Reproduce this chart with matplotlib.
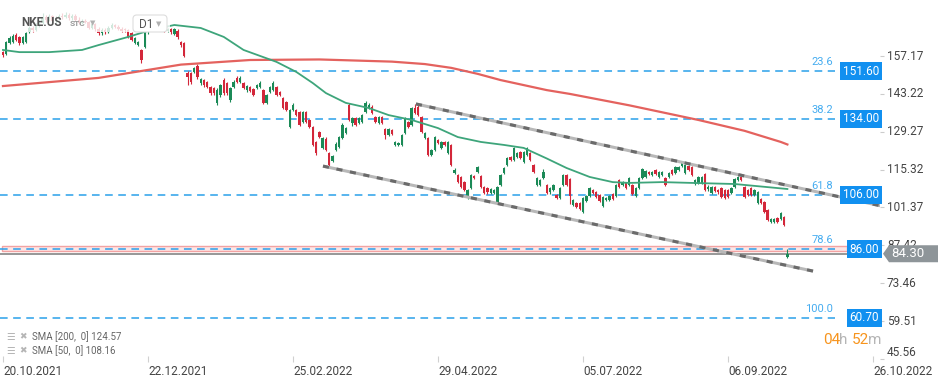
import numpy as np
import matplotlib
matplotlib.use("Agg")
import matplotlib.pyplot as plt
from matplotlib.patches import Rectangle, Polygon, FancyBboxPatch
from matplotlib.transforms import blended_transform_factory, ScaledTranslation

W, H = 949, 384

# x axis: one slot per trading day, labels every 44 bars
date_ticks = [0, 44, 88, 132, 176, 220, 264]
date_labels = ["20.10.2021", "22.12.2021", "25.02.2022", "29.04.2022",
               "05.07.2022", "06.09.2022", "26.10.2022"]
price_ticks = [157.17, 143.22, 129.27, 115.32, 101.37, 87.42, 73.46, 59.51, 45.56]

# fibo levels and zone
levels = [151.60, 134.00, 106.00, 86.00, 60.70]
fib_labels = ["23.6", "38.2", "61.8", "78.6", "100.0"]
zone_low, zone_high = 85.2, 87.2
last_price = 84.30

# daily candles NKE.US
opens = [
    158.6, 157.8, 162.0, 162.3, 164.9, 164.0, 162.0, 162.3, 166.0, 167.5,
    166.8, 168.6, 169.5, 171.5, 170.4, 171.8, 170.0, 171.2, 172.0, 171.4,
    172.4, 171.0, 172.0, 170.6, 169.5, 170.2, 169.8, 167.6, 168.8, 167.0,
    165.5, 166.8, 166.0, 167.5, 168.5, 168.0, 167.3, 167.0, 166.8, 165.6,
    162.0, 161.2, 159.4, 160.5, 166.0, 167.0, 168.0, 170.0, 168.0, 167.5,
    166.5, 167.0, 165.4, 166.5, 162.3, 161.8, 150.9, 150.9, 151.3, 153.5,
    147.2, 148.3, 147.6, 145.8, 145.4, 139.9, 142.8, 148.3, 147.2, 141.0,
    145.8, 149.1, 147.6, 147.2, 144.6, 145.8, 145.0, 145.4, 145.8, 144.6,
    139.9, 143.9, 144.6, 145.8, 143.9, 141.7, 140.2, 131.0, 137.3, 137.3,
    136.5, 132.8, 136.5, 133.6, 131.0, 125.5, 129.2, 123.3, 126.5, 121.4,
    118.5, 122.5, 123.6, 127.0, 128.8, 139.1, 132.5, 134.3, 132.5, 132.8,
    136.5, 138.0, 138.4, 134.7, 132.5, 134.7, 130.3, 128.1, 129.9, 124.4,
    124.4, 124.4, 128.8, 132.8, 131.7, 138.0, 138.4, 134.7, 127.0, 127.0,
    120.7, 122.5, 126.2, 123.3, 125.5, 121.4, 124.4, 114.1, 113.3, 112.6,
    110.7, 104.8, 108.5, 113.0, 114.4, 113.0, 108.9, 108.5, 106.7, 106.7,
    103.4, 109.6, 114.1, 117.0, 119.9, 118.8, 120.0, 121.8, 118.1, 120.7,
    121.4, 117.0, 109.6, 109.6, 112.2, 109.6, 107.0, 107.8, 105.9, 104.8,
    109.6, 113.3, 111.8, 102.3, 103.0, 103.0, 99.7, 103.7, 105.6, 107.8,
    107.0, 105.9, 101.9, 104.1, 104.1, 106.3, 105.6, 111.5, 109.6, 110.4,
    109.6, 109.6, 105.6, 108.5, 112.2, 112.6, 114.4, 113.3, 115.2, 112.6,
    113.3, 112.2, 112.6, 115.2, 114.1, 115.2, 116.6, 114.1, 116.6, 116.3,
    110.0, 110.4, 110.4, 113.7, 108.0, 106.7, 108.9, 107.8, 108.5, 107.8,
    107.8, 106.7, 108.9, 111.5, 112.6, 108.9, 107.8, 108.5, 105.9, 103.0,
    104.5, 103.4, 100.4, 96.0, 96.0, 97.5, 97.1, 97.8, 83.0,
]
highs = [
    159.0, 162.6, 164.4, 165.2, 165.5, 164.6, 164.5, 166.2, 168.2, 168.4,
    169.2, 170.3, 173.0, 172.2, 172.5, 172.4, 171.8, 172.8, 172.9, 173.4,
    173.0, 172.7, 172.6, 171.4, 170.9, 170.8, 170.1, 169.5, 169.4, 167.8,
    167.4, 167.6, 168.1, 169.2, 169.0, 168.6, 167.9, 167.5, 167.2, 166.0,
    164.3, 162.8, 159.9, 166.8, 167.8, 168.7, 170.8, 170.6, 168.6, 168.0,
    167.6, 167.5, 167.6, 167.0, 162.8, 162.2, 151.5, 151.3, 153.2, 154.3,
    149.2, 148.8, 148.1, 146.3, 145.9, 145.2, 147.0, 148.9, 147.7, 145.9,
    148.3, 149.8, 149.7, 147.7, 146.6, 146.3, 145.5, 147.0, 148.0, 145.1,
    143.3, 146.3, 147.8, 146.3, 144.4, 142.2, 140.7, 137.8, 139.9, 137.8,
    137.0, 137.0, 137.0, 134.1, 131.5, 126.0, 129.7, 127.5, 127.2, 121.9,
    120.8, 125.3, 127.8, 132.3, 131.1, 139.9, 134.8, 134.8, 134.8, 135.9,
    140.6, 139.7, 139.0, 135.2, 135.2, 135.2, 130.8, 130.8, 130.4, 126.0,
    125.6, 128.6, 134.8, 133.3, 138.5, 139.5, 139.5, 135.2, 129.3, 127.5,
    123.0, 127.8, 126.7, 126.0, 126.0, 126.0, 124.9, 115.9, 113.8, 113.1,
    111.2, 108.3, 113.8, 113.5, 116.8, 113.5, 109.4, 109.0, 108.7, 108.3,
    109.4, 113.8, 116.4, 120.1, 120.4, 123.8, 121.9, 122.3, 122.3, 123.8,
    121.9, 117.5, 112.7, 112.0, 115.5, 110.1, 109.0, 110.1, 106.4, 109.0,
    113.8, 113.8, 112.3, 104.6, 103.5, 103.5, 105.3, 106.1, 109.0, 108.3,
    107.5, 106.4, 105.7, 105.3, 106.1, 106.8, 110.1, 112.0, 111.2, 110.9,
    112.7, 110.1, 109.0, 112.7, 116.0, 115.3, 114.9, 114.9, 115.7, 114.9,
    114.9, 112.7, 114.6, 115.7, 116.8, 116.8, 118.2, 117.5, 117.1, 116.8,
    112.0, 113.1, 113.1, 114.2, 109.5, 109.4, 109.4, 108.3, 109.0, 108.3,
    108.3, 109.0, 112.3, 113.1, 113.1, 109.4, 108.3, 109.0, 108.3, 107.5,
    105.0, 103.9, 100.9, 97.6, 97.6, 98.0, 99.8, 98.3, 86.0,
]
lows = [
    156.8, 157.5, 161.6, 162.0, 162.6, 161.4, 161.7, 162.0, 165.5, 166.2,
    166.3, 168.0, 169.0, 169.8, 170.0, 169.4, 169.5, 170.6, 170.8, 171.0,
    170.5, 170.4, 170.0, 168.9, 168.8, 169.2, 167.0, 167.1, 166.4, 164.8,
    164.9, 165.2, 165.6, 167.0, 167.4, 166.8, 166.0, 166.0, 163.8, 162.6,
    161.6, 160.8, 154.6, 160.0, 165.4, 166.5, 167.6, 167.5, 166.9, 166.0,
    166.0, 165.4, 164.8, 163.6, 160.6, 156.8, 146.5, 147.0, 150.8, 148.8,
    146.6, 145.9, 145.3, 142.9, 142.8, 139.2, 142.2, 142.9, 142.9, 140.3,
    145.3, 147.1, 147.1, 144.9, 144.0, 143.8, 142.3, 144.9, 145.3, 139.3,
    139.4, 143.4, 144.1, 142.3, 142.3, 137.5, 136.8, 130.5, 136.8, 134.9,
    131.2, 132.3, 132.3, 130.5, 123.9, 120.8, 126.8, 122.8, 122.0, 116.4,
    118.0, 122.0, 123.1, 126.5, 128.3, 133.1, 131.5, 131.2, 132.0, 132.3,
    136.0, 137.5, 135.7, 132.3, 132.0, 132.0, 126.6, 127.6, 127.9, 123.9,
    123.9, 123.9, 128.3, 130.5, 131.2, 135.7, 134.9, 128.7, 126.5, 120.2,
    120.2, 122.0, 124.6, 122.8, 123.9, 120.9, 116.5, 113.6, 110.2, 108.4,
    107.3, 104.3, 108.0, 111.7, 113.9, 108.4, 106.2, 106.5, 106.2, 106.2,
    102.6, 109.1, 113.6, 116.5, 118.3, 118.3, 119.5, 119.1, 117.6, 120.2,
    118.3, 113.9, 109.1, 109.1, 111.7, 106.2, 106.5, 107.3, 104.3, 104.3,
    109.1, 109.1, 102.5, 101.8, 101.0, 100.3, 99.2, 103.2, 105.1, 106.2,
    104.7, 103.2, 101.4, 103.6, 103.6, 104.0, 105.1, 108.4, 109.1, 108.0,
    109.1, 105.8, 105.1, 108.0, 111.7, 112.1, 113.2, 112.8, 113.2, 112.1,
    112.8, 109.1, 112.1, 113.2, 113.6, 114.7, 116.1, 113.6, 114.7, 112.8,
    109.5, 109.9, 109.9, 107.3, 107.5, 106.2, 106.9, 106.5, 104.7, 104.3,
    104.7, 106.2, 108.4, 111.0, 111.0, 104.7, 105.4, 105.4, 105.4, 102.5,
    102.5, 99.2, 96.2, 95.5, 95.5, 95.5, 96.6, 94.4, 82.6,
]
closes = [
    157.5, 162.3, 163.8, 164.5, 163.0, 162.0, 164.0, 165.6, 167.5, 166.8,
    168.6, 169.5, 171.5, 170.4, 171.8, 170.0, 171.2, 172.0, 171.4, 172.4,
    171.0, 172.0, 170.6, 169.5, 170.2, 169.8, 167.6, 168.8, 167.0, 165.5,
    166.8, 166.0, 167.5, 168.5, 168.0, 167.3, 166.5, 166.6, 164.2, 163.1,
    163.8, 162.3, 155.7, 166.0, 167.0, 168.0, 170.0, 168.0, 167.5, 166.5,
    167.0, 166.0, 167.0, 164.2, 161.2, 157.2, 149.4, 147.6, 152.8, 149.4,
    148.7, 146.5, 145.8, 143.5, 143.5, 144.6, 146.5, 143.5, 143.5, 145.4,
    147.6, 147.6, 149.1, 145.4, 146.1, 144.3, 142.8, 146.5, 147.2, 139.9,
    142.8, 145.8, 147.2, 142.8, 142.8, 138.0, 137.3, 137.3, 139.1, 135.4,
    131.7, 136.5, 132.8, 131.0, 124.4, 121.4, 127.3, 127.0, 122.5, 117.0,
    120.3, 124.8, 127.3, 131.8, 130.6, 133.6, 134.3, 131.7, 134.3, 135.4,
    139.9, 139.1, 136.2, 132.8, 134.7, 132.5, 128.1, 130.3, 128.4, 125.5,
    125.1, 128.1, 134.3, 131.0, 138.0, 136.2, 135.4, 129.2, 128.8, 120.7,
    122.5, 127.3, 125.1, 125.5, 124.4, 125.5, 117.0, 115.2, 110.7, 108.9,
    107.8, 107.8, 113.3, 112.2, 116.3, 108.9, 106.7, 107.0, 108.2, 107.8,
    108.9, 113.3, 115.9, 119.6, 118.8, 123.3, 121.4, 119.6, 121.8, 123.3,
    118.8, 114.4, 112.2, 111.5, 114.4, 106.7, 108.5, 109.6, 104.8, 108.5,
    113.3, 109.6, 105.6, 104.1, 101.5, 100.8, 104.8, 105.6, 108.5, 106.7,
    105.2, 103.7, 105.2, 104.8, 105.6, 104.5, 109.6, 108.9, 110.7, 108.5,
    112.2, 106.3, 108.5, 112.2, 115.5, 114.8, 113.7, 114.4, 113.7, 114.4,
    114.4, 109.6, 114.1, 113.7, 116.3, 116.3, 117.7, 117.0, 115.2, 113.3,
    111.5, 112.6, 112.6, 107.8, 109.0, 108.9, 107.4, 107.0, 105.2, 104.8,
    105.2, 108.5, 111.8, 112.6, 111.5, 105.2, 105.9, 105.9, 107.8, 107.0,
    103.0, 99.7, 96.7, 97.1, 97.1, 96.0, 99.3, 94.9, 84.3,
]

# moving averages (sampled along the drawn lines)
sma200_idx = [0, 29, 54, 75, 96, 118, 128, 136, 144, 151, 165, 172, 190, 211,
              225, 236, 238]
sma200_val = [146.1, 149.1, 154.0, 155.7, 155.9, 155.1, 154.2, 152.8, 150.6,
              148.3, 144.6, 143.2, 139.0, 133.6, 129.6, 125.5, 124.57]
sma50_idx = [0, 5, 14, 24, 29, 38, 45, 52, 60, 67, 73, 83, 89, 94, 98, 104,
             111, 117, 124, 132, 138, 145, 152, 158, 165, 171, 178, 185, 190,
             200, 209, 222, 238]
sma50_val = [159.4, 158.6, 158.6, 159.4, 161.2, 164.2, 166.8, 168.6, 167.5,
             164.2, 159.4, 155.0, 151.3, 147.2, 143.5, 139.9, 138.0, 135.4,
             133.6, 130.6, 127.3, 125.5, 124.4, 123.3, 119.4, 115.9, 112.6,
             110.7, 110.4, 110.7, 110.4, 110.0, 108.16]

# trend channel end points (bar index, price)
upper_idx, upper_val = [125.3, 266.5], [139.5, 101.9]
lower_idx, lower_val = [97.1, 245.8], [116.6, 77.9]

plt.rcParams['font.family'] = ['Roboto', 'DejaVu Sans']

fig = plt.figure(figsize=(W / 100, H / 100), dpi=100)
fig.patch.set_facecolor('white')
ax = fig.add_axes([0, 25 / H, 880 / W, 359 / H])
ax.set_xlim(-0.9, 266.1)
ax.set_ylim(45.51, 177.81)
for s in ax.spines.values():
    s.set_visible(False)


def fx(px):
    return px / W


def fy(py):
    return 1 - py / H


# levels, zone, last price line
ax.hlines(levels, -0.9, 252.5, colors='#2aa0ea', linestyles=(0, (5, 3.6)),
          lw=1.1, zorder=2)
ax.add_patch(Rectangle((-0.3, zone_low), 256.4, zone_high - zone_low,
                       fc='#fde6e6', ec='#f2a3a3', lw=1, zorder=1.5))
ax.axhline(last_price, color='#8f8f8f', lw=1.3, zorder=2.2)

# candles
o, h, l, c = (np.array(v) for v in (opens, highs, lows, closes))
idx = np.arange(len(o))
col = np.where(c >= o, '#1b8a57', '#d3273a')
ax.vlines(idx, l, h, colors=col, lw=0.8, zorder=3)
ax.bar(idx, np.maximum(np.abs(c - o), 0.3), bottom=np.minimum(o, c),
       width=0.72, color=col, linewidth=0, zorder=3)

# moving averages
ax.plot(sma200_idx, sma200_val, color='#e4625e', lw=1.6, zorder=4)
ax.plot(sma50_idx, sma50_val, color='#3ea57b', lw=1.3, zorder=4)

# channel
for xs, ys in ((upper_idx, upper_val), (lower_idx, lower_val)):
    ax.plot(xs, ys, color='#b8b8b8', lw=2.2, solid_capstyle='butt', zorder=5)
    ax.plot(xs, ys, color='#6a6a6a', lw=2.2, dashes=(2, 2.5), zorder=5)

# axis ticks
ax.set_xticks(date_ticks, date_labels)
plt.setp(ax.get_xticklabels(), ha='left')
ax.tick_params(axis='x', labelsize=8.5, labelcolor='#444444', color='#d0d0d0',
               direction='inout', length=5, width=0.8, pad=1.5)
ax.yaxis.tick_right()
ax.set_yticks(price_ticks)
ax.tick_params(axis='y', labelright=False, color='#cccccc', length=3, width=0.8)

tr = blended_transform_factory(fig.transFigure, ax.transData)
for p in price_ticks:
    t = tr
    if p == price_ticks[-1]:
        t = tr + ScaledTranslation(0, 0.06, fig.dpi_scale_trans)
    ax.text(fx(887), p, f"{p:.2f}", transform=t, ha='left', va='center',
            fontsize=8.5, color='#444444', clip_on=False, zorder=3)

# level labels
for lvl, fib in zip(levels, fib_labels):
    ax.text(fx(879), lvl, f"{lvl:.2f}", transform=tr, ha='right', va='center',
            fontsize=8.5, color='white', clip_on=False, zorder=8,
            bbox=dict(boxstyle='square,pad=0.22', fc='#1190f0', ec='none'))
    ax.text(fx(833), lvl, fib,
            transform=tr + ScaledTranslation(0, 0.09, fig.dpi_scale_trans),
            ha='right', va='center', fontsize=8, color='#45acf0',
            clip_on=False, zorder=8)

# last price tag
tag = fig.dpi_scale_trans + ScaledTranslation(fx(883), last_price, tr)
ax.add_patch(Polygon([(0, 0), (0.06, 0.085), (0.55, 0.085), (0.55, -0.085),
                      (0.06, -0.085)], closed=True, transform=tag,
                     fc='#8e9599', ec='none', zorder=9, clip_on=False))
ax.text(fx(891), last_price, f"{last_price:.2f}", transform=tr, ha='left',
        va='center', fontsize=9.5, color='white', zorder=10, clip_on=False)

# header (faded area over the candles)
fig.add_artist(Rectangle((0, fy(32)), fx(170), 32 / H, transform=fig.transFigure,
                         fc='white', alpha=0.8, ec='none', zorder=5))
fig.text(fx(21), fy(23), "NKE.US", fontsize=8.5, fontweight='bold',
         color='#555555', va='center', zorder=7)
fig.text(fx(70), fy(24), "STC", fontsize=6, fontweight='bold',
         color='#9a9a9a', va='center', zorder=7)
fig.text(fx(90), fy(23), "\u25BC", fontsize=5, color='#b0b0b0', va='center',
         family='DejaVu Sans', zorder=7)
fig.add_artist(FancyBboxPatch((fx(133), fy(32)), fx(34), 17 / H,
                              boxstyle='round,pad=0,rounding_size=0.004',
                              mutation_aspect=W / H, transform=fig.transFigure,
                              fc='white', ec='#dddddd', lw=0.8, zorder=6))
fig.text(fx(139), fy(24), "D1", fontsize=8.5, color='#555555', va='center',
         zorder=7)
fig.text(fx(156), fy(24), "\u25BC", fontsize=5, color='#b0b0b0', va='center',
         family='DejaVu Sans', zorder=7)

# indicator legend
for row, (name, val) in enumerate((("SMA [200,  0]", sma200_val[-1]),
                                    ("SMA [50,  0]", sma50_val[-1]))):
    yy = fy(337 + 14 * row)
    fig.text(fx(6), yy, "\u2630", fontsize=7, color='#b5b5b5', va='center',
             family='DejaVu Sans')
    fig.text(fx(19), yy, "\u2716", fontsize=6.5, color='#b5b5b5', va='center',
             family='DejaVu Sans')
    fig.text(fx(32), yy, f"{name} {val:.2f}", fontsize=7, color='#666666',
             va='center')

# session countdown
for px, s, colr in ((823, "04", '#f7941d'), (839, "h", '#b5b5b5'),
                    (852, "52", '#f7941d'), (868, "m", '#b5b5b5')):
    fig.text(fx(px), fy(340), s, fontsize=11, color=colr, va='center')

fig.savefig("out.png", dpi=100)
